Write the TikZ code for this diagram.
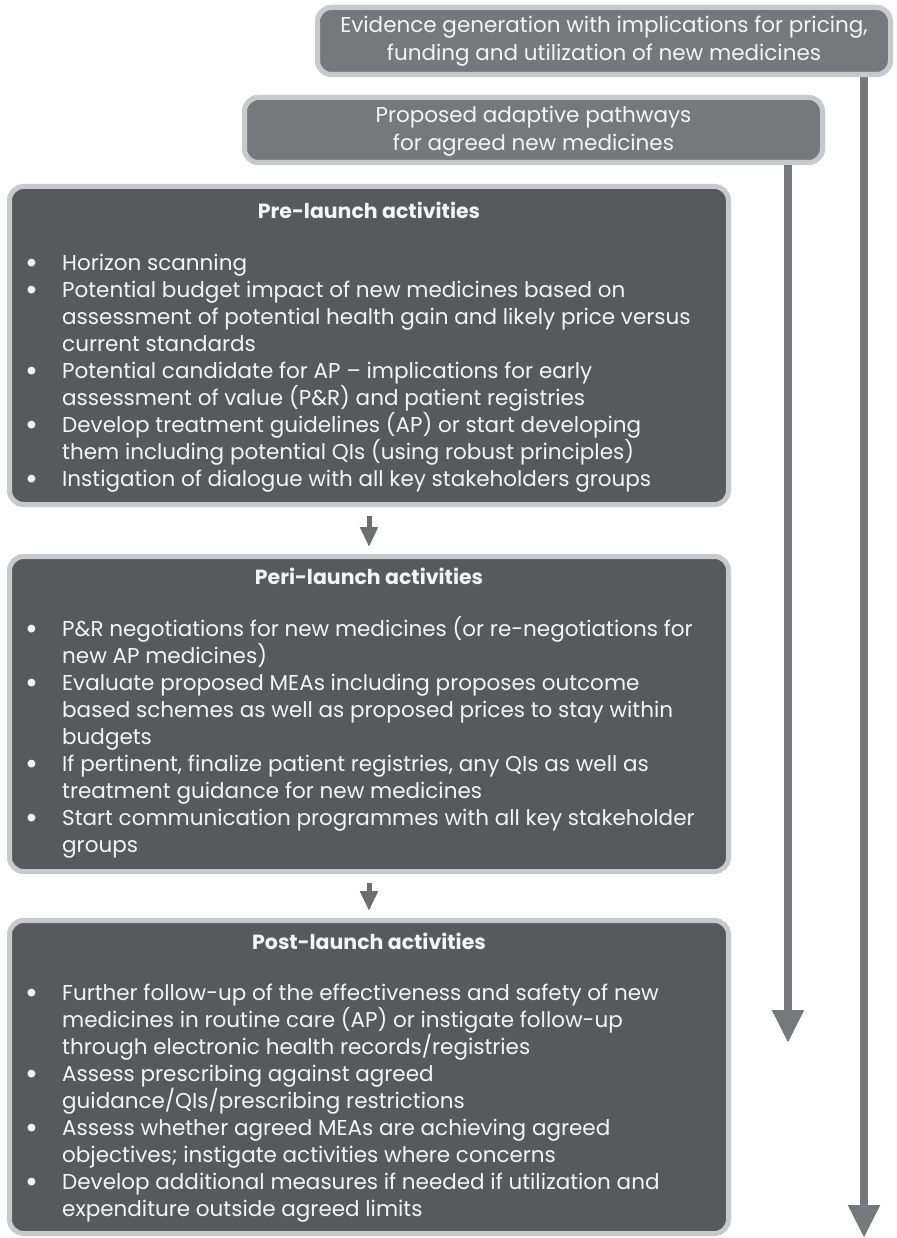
\documentclass[tikz,border=0pt]{standalone}
\usepackage{fontspec}
\setmainfont{Poppins}
\usetikzlibrary{arrows.meta}
\definecolor{boxdark}{HTML}{58595B}
\definecolor{boxmid}{HTML}{77787B}
\definecolor{boxring}{HTML}{C8C9CB}
\definecolor{lineg}{HTML}{77787B}
\definecolor{arrg}{HTML}{6D6E71}
\definecolor{txt}{HTML}{F4F4F4}
\newcommand{\bul}{\makebox[36pt][l]{\hspace*{-1pt}\raisebox{-3pt}[0pt][0pt]{\scalebox{1.45}{\textbullet}}}}
\newcommand{\ind}{\hspace*{36pt}}
\begin{document}
\begin{tikzpicture}[x=1pt,y=-1pt,
  boxbase/.style={draw=boxring, line width=5pt, rounded corners=14pt, inner sep=0pt},
  topbox/.style={boxbase, fill=boxmid},
  actbox/.style={boxbase, fill=boxdark},
  boxtext/.style={text=txt, align=center, inner sep=0pt, font=\fontsize{21.5}{28}\selectfont},
  titletext/.style={text=txt, inner sep=0pt, font=\fontsize{20.5}{27}\selectfont\bfseries},
  listtext/.style={text=txt, align=left, inner sep=0pt, anchor=west, font=\fontsize{21.5}{27}\selectfont},
  bigline/.style={draw=lineg, line width=8pt, -{Triangle[width=30pt,length=33pt]}},
  smallarrow/.style={draw=arrg, line width=5pt, -{Triangle[width=17pt,length=20pt]}, shorten <=9pt, shorten >=7pt}
]
\useasboundingbox (0,0) rectangle (896,1238);

\coordinate (endA) at (788,1043);
\coordinate (endB) at (864,1238);

% boxes
\node[topbox, minimum width=573pt, minimum height=67pt] (ev) at (604,41) {};
\node[topbox, minimum width=578pt, minimum height=65pt] (ap) at (533.5,130) {};
\node[actbox, minimum width=719pt, minimum height=318pt] (pre) at (369,345.5) {};
\node[actbox, minimum width=719pt, minimum height=315pt] (peri) at (369,714) {};
\node[actbox, minimum width=719pt, minimum height=313pt] (post) at (369,1077) {};

% long lines
\draw[bigline] (ev.south -| endB) -- (endB);
\draw[bigline] (ap.south -| endA) -- (endA);

% redraw top boxes on top of line starts
\node[topbox, minimum width=573pt, minimum height=67pt] at (ev) {};
\node[topbox, minimum width=578pt, minimum height=65pt] at (ap) {};

% texts
\node[boxtext] (evt) at (604,41) {Evidence generation with implications for pricing,\\funding and utilization of new medicines};
\node[boxtext] (apt) at (533.5,131) {Proposed adaptive pathways\\for agreed new medicines};

\node[titletext] (pret) at (369,210) {Pre-launch activities};
\node[listtext] (prel) at (26,373) {%
\bul Horizon scanning\\
\bul Potential budget impact of new medicines based on\\
\ind assessment of potential health gain and likely price versus\\
\ind current standards\\
\bul Potential candidate for AP – implications for early\\
\ind assessment of value (P\&R) and patient registries\\
\bul Develop treatment guidelines (AP) or start developing\\
\ind them including potential QIs (using robust principles)\\
\bul Instigation of dialogue with all key stakeholders groups};

\node[titletext] (perit) at (369,576) {Peri-launch activities};
\node[listtext] (peril) at (26,737) {%
\bul P\&R negotiations for new medicines (or re-negotiations for\\
\ind new AP medicines)\\
\bul Evaluate proposed MEAs including proposes outcome\\
\ind based schemes as well as proposed prices to stay within\\
\ind budgets\\
\bul If pertinent, finalize patient registries, any QIs as well as\\
\ind treatment guidance for new medicines\\
\bul Start communication programmes with all key stakeholder\\
\ind groups};

\node[titletext] (postt) at (369,941) {Post-launch activities};
\node[listtext] (postl) at (26,1103) {%
\bul Further follow-up of the effectiveness and safety of new\\
\ind medicines in routine care (AP) or instigate follow-up\\
\ind through electronic health records/registries\\
\bul Assess prescribing against agreed\\
\ind guidance/QIs/prescribing restrictions\\
\bul Assess whether agreed MEAs are achieving agreed\\
\ind objectives; instigate activities where concerns\\
\bul Develop additional measures if needed if utilization and\\
\ind expenditure outside agreed limits};

% small arrows
\draw[smallarrow] (pre.south) -- (peri.north);
\draw[smallarrow] (peri.south) -- (post.north);
\end{tikzpicture}
\end{document}
